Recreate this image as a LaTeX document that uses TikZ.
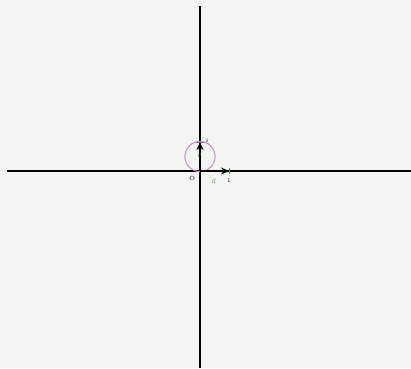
\documentclass[tikz,border=0pt]{standalone}
\usetikzlibrary{arrows.meta}
\definecolor{bgcol}{RGB}{241,246,240}
\definecolor{circcol}{RGB}{214,130,214}
\definecolor{vecgreen}{RGB}{50,150,50}
\tikzset{
  axis/.style={line width=1.4pt, black},
  vecarrow/.style={line width=1.4pt, -{Stealth[length=8pt,width=7pt]}},
  tinylabel/.style={font=\fontsize{6}{7}\selectfont, inner sep=1pt}
}
\begin{document}
\begin{tikzpicture}[x=29pt, y=29pt]
            % 1. Background and bounding box
            \fill[bgcol] (-6.897,-6.793) rectangle (7.276,5.897);
            \useasboundingbox (-6.897,-6.793) rectangle (7.276,5.897);

            % 2. Define the points
            \coordinate (O) at (0,0);
            \coordinate (xl) at (-6.655,0);
            \coordinate (xr) at (7.276,0);
            \coordinate (yt) at (0,5.69);
            \coordinate (yb) at (0,-6.793);
            \coordinate (U) at (1,0);
            \coordinate (V) at (0,1);
            \coordinate (C) at (0,0.5);

            % 3. Draw the axes
            \draw[axis] (xl) -- (xr);
            \draw[axis] (yb) -- (yt);

            % 4. The circle
            \draw[circcol, line width=1pt] (C) circle (0.52);

            % 5. Ticks
            \draw[vecgreen, line width=0.8pt] (1,-0.1) -- (1,0.1);
            \draw[gray, line width=0.8pt] (-0.14,1) -- (0.14,1);

            % 6. The unit vectors
            \draw[vecarrow] (O) -- (U);
            \draw[vecarrow] (O) -- (V);

            % 7. Labels
            \node[tinylabel] (lO) at (-0.27,-0.27) {O};
            \node[tinylabel] (l1) at (1,-0.33) {1};
            \node[tinylabel] (li) at (0.25,1.04) {$i$};
            \node[tinylabel, vecgreen] (lu) at (0.48,-0.36) {$\vec{u}$};
            \node[tinylabel, vecgreen] (lv) at (-0.03,0.55) {$\vec{v}$};
          \end{tikzpicture}
\end{document}
